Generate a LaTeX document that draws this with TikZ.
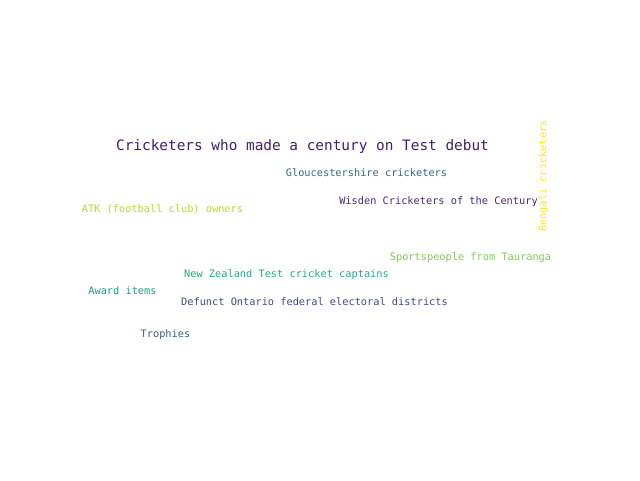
\documentclass[tikz,border=0pt]{standalone}
\usepackage{fontspec}
\setmonofont{DejaVu Sans Mono}
\definecolor{vpurple}{HTML}{481A6C}
\definecolor{vviolet}{HTML}{482878}
\definecolor{vindigo}{HTML}{3E4A89}
\definecolor{vslate}{HTML}{375B8D}
\definecolor{vblue}{HTML}{31688E}
\definecolor{vteal}{HTML}{1F9E89}
\definecolor{vsea}{HTML}{26A884}
\definecolor{vgreen}{HTML}{7AD151}
\definecolor{vlime}{HTML}{B5DE2B}
\definecolor{vyellow}{HTML}{FDE725}
\tikzset{
  cloudword/.style={inner sep=0pt, font=\ttfamily\fontsize{10.3}{12}\selectfont},
  bigword/.style={inner sep=0pt, font=\ttfamily\fontsize{14.4}{17}\selectfont}
}
\begin{document}
\begin{tikzpicture}[x=1pt,y=1pt,yscale=-1,xscale=1]
%set diagram to 640 x 480
\path[use as bounding box, fill=white] (0,0) rectangle (640,480);

% Text Node
\node[bigword, text=vpurple] (debut) at (302.5,147) {Cricketers who made a century on Test debut};
% Text Node
\node[cloudword, text=vblue] (glouc) at (366.5,173) {Gloucestershire cricketers};
% Text Node
\node[cloudword, text=vlime] (atk) at (162.5,209) {ATK (football club) owners};
% Text Node
\node[cloudword, text=vviolet] (wisden) at (438.5,202) {Wisden Cricketers of the Century};
% Text Node
\node[cloudword, text=vyellow, rotate=90] (bengali) at (543.5,176) {Bengali cricketers};
% Text Node
\node[cloudword, text=vgreen] (tauranga) at (470.5,258) {Sportspeople from Tauranga};
% Text Node
\node[cloudword, text=vsea] (nzcapt) at (286.5,275) {New Zealand Test cricket captains};
% Text Node
\node[cloudword, text=vteal] (award) at (122.5,291) {Award items};
% Text Node
\node[cloudword, text=vindigo] (ontario) at (314.5,302) {Defunct Ontario federal electoral districts};
% Text Node
\node[cloudword, text=vslate] (trophies) at (165.5,335) {Trophies};

\end{tikzpicture}
\end{document}
